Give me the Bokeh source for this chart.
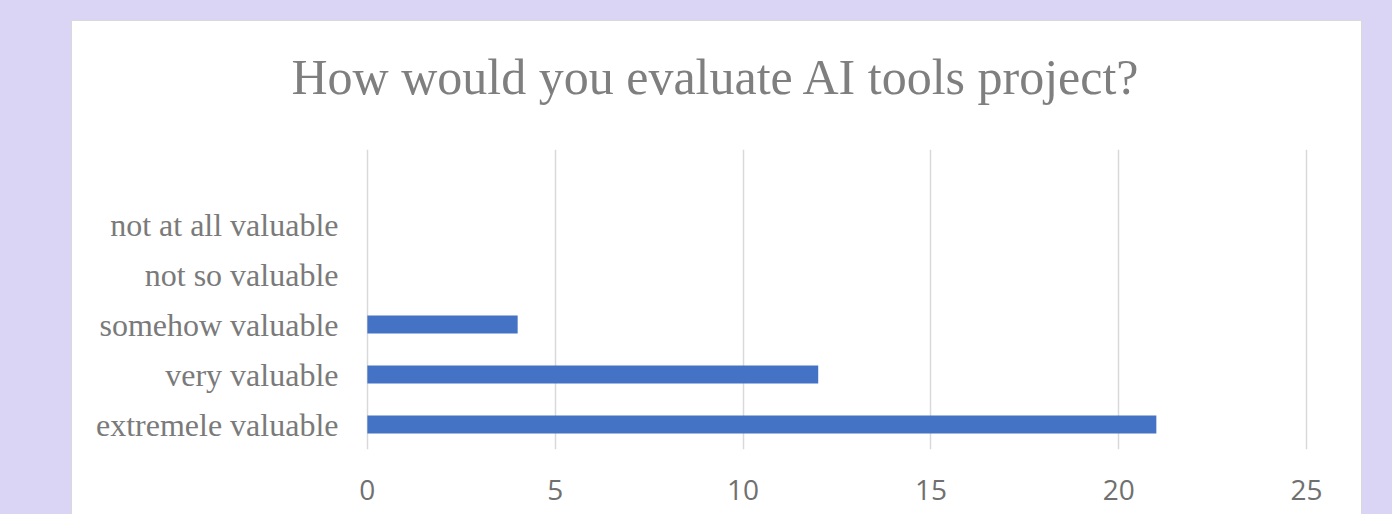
from bokeh.plotting import figure
from bokeh.models import Range1d, FixedTicker, Title, GlobalInlineStyleSheet
from bokeh.embed import file_html
from bokeh.resources import INLINE

# ---- data ----
categories = ["extremele valuable", "very valuable", "somehow valuable",
              "not so valuable", "not at all valuable"]
counts = [21, 12, 4, 0, 0]
x_ticks = [0, 5, 10, 15, 20, 25]
title_text = "How would you evaluate AI tools project?"

LAVENDER = "#dad5f4"
BAR = "#4472c4"

positions = list(range(len(categories)))

p = figure(
    y_range=Range1d(-0.5, len(categories) + 0.5),
    x_range=Range1d(-0.05, 25.05),
    frame_width=943, frame_height=300,
    min_border_left=293, min_border_right=53,
    min_border_top=128, min_border_bottom=90,
    output_backend="svg", toolbar_location=None,
    title=None,
)
p.stylesheets = [GlobalInlineStyleSheet(
    css=f"html,body{{background:{LAVENDER};overflow:hidden;}}")]
p.styles = {"margin-left": "71px", "margin-top": "20px",
            "border": "1px solid #d9d9d9", "background-color": "white"}
p.border_fill_color = "white"
p.background_fill_color = "white"
p.outline_line_color = None

p.hbar(y=positions, right=counts, height=0.36, color=BAR, line_color=None)

# axes
p.xaxis.ticker = FixedTicker(ticks=x_ticks)
p.xaxis.axis_line_color = None
p.xaxis.major_tick_line_color = None
p.xaxis.minor_tick_line_color = None
p.xaxis.major_tick_out = 0
p.xaxis.major_tick_in = 0
p.xaxis.major_label_standoff = 30
p.xaxis.major_label_text_font = "Open Sans"
p.xaxis.major_label_text_font_size = "28px"
p.xaxis.major_label_text_color = "#707070"

p.yaxis.ticker = FixedTicker(ticks=positions)
p.yaxis.major_label_overrides = {i: c for i, c in zip(positions, categories)}
p.yaxis.axis_line_color = None
p.yaxis.major_tick_line_color = None
p.yaxis.minor_tick_line_color = None
p.yaxis.major_tick_out = 0
p.yaxis.major_tick_in = 0
p.yaxis.major_label_standoff = 27
p.yaxis.major_label_text_font = "Liberation Serif"
p.yaxis.major_label_text_font_size = "32px"
p.yaxis.major_label_text_color = "#7a7a7a"

p.xgrid.grid_line_color = "#d9d9d9"
p.xgrid.grid_line_width = 1.5
p.ygrid.grid_line_color = None

# blank spacer between the frame and the title (first added sits nearest the frame)
spacer = Title(text=" ", standoff=42, text_font_size="1px", text_color="white")
p.add_layout(spacer, "above")

title = Title(text=title_text, align="left", offset=-74, standoff=0,
              text_font="Liberation Serif", text_font_size="50px",
              text_font_style="normal", text_color="#7f7f7f")
p.add_layout(title, "above")

open("out.html", "w").write(file_html(p, INLINE))
